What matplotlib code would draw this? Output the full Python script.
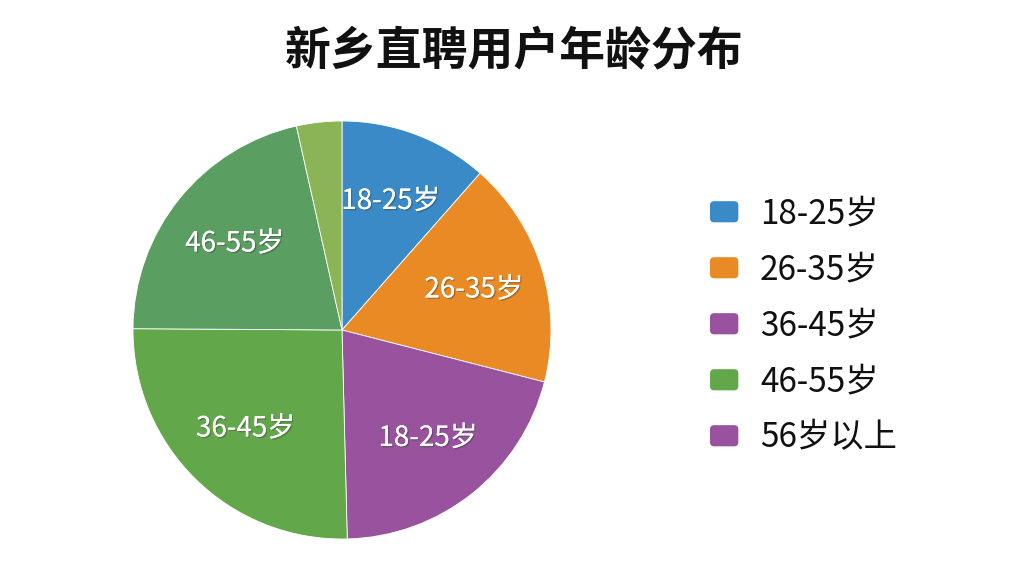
import matplotlib
matplotlib.use('Agg')
import matplotlib.pyplot as plt
import matplotlib.patheffects as pe
from matplotlib.patches import Patch, FancyBboxPatch
from matplotlib.legend_handler import HandlerPatch

plt.rcParams['font.family'] = ['Noto Sans CJK SC', 'DejaVu Sans']

#%% Data
slice_labels = ['18-25岁', '26-35岁', '18-25岁', '36-45岁', '46-55岁', '']
slice_values = [11.5, 17.5, 20.6, 25.5, 21.4, 3.5]
slice_colors = ['#3a8ac8', '#ea8a24', '#98529e', '#62a84a', '#5a9e62', '#8ab456']

legend_labels = ['18-25岁', '26-35岁', '36-45岁', '46-55岁', '56岁以上']
legend_colors = ['#3a8ac8', '#ea8a24', '#98529e', '#62a84a', '#98529e']

title = '新乡直聘用户年龄分布'


# rounded legend boxes
def rounded_box(legend, orig_handle, xdescent, ydescent, width, height, fontsize):
    return FancyBboxPatch((-xdescent, -ydescent), width, height,
                          boxstyle='round,pad=0,rounding_size=3')


#%% Figure
fig = plt.figure(figsize=(10.24, 5.76), dpi=100)
fig.patch.set_facecolor('white')

# pie axes: centre (342, 330) px, radius 209 px
ax = fig.add_axes([(342 - 209) / 1024, (576 - 330 - 209) / 576, 418 / 1024, 418 / 576])
wedges, texts = ax.pie(slice_values, labels=slice_labels, colors=slice_colors,
                       startangle=90, counterclock=False, labeldistance=0.66,
                       wedgeprops=dict(edgecolor='white', linewidth=0.6),
                       textprops=dict(color='white', fontsize=20))
for t in texts:
    t.set_ha('center')
    t.set_va('center')
    t.set_path_effects([pe.withSimplePatchShadow(offset=(1, -1), shadow_rgbFace='#333333', alpha=0.35),
                        pe.Normal()])
ax.set_xlim(-1, 1)
ax.set_ylim(-1, 1)
ax.set_aspect('equal')

# title
fig.text(514 / 1024, 1 - 52 / 576, title, ha='center', va='center',
         fontsize=33, fontweight='bold', color='#111111')

# legend (five entries only)
handles = [Patch(facecolor=c, edgecolor='none') for c in legend_colors]
leg = fig.legend(handles, legend_labels, loc='center left',
                 bbox_to_anchor=(710 / 1024, 1 - 326 / 576), frameon=False,
                 fontsize=24, handlelength=0.85, handleheight=0.6,
                 handletextpad=0.65, labelspacing=0.63, borderpad=0, borderaxespad=0,
                 handler_map={Patch: HandlerPatch(patch_func=rounded_box)})
for t in leg.get_texts():
    t.set_color('#111111')

fig.savefig('out.png', dpi=100, facecolor='white')
